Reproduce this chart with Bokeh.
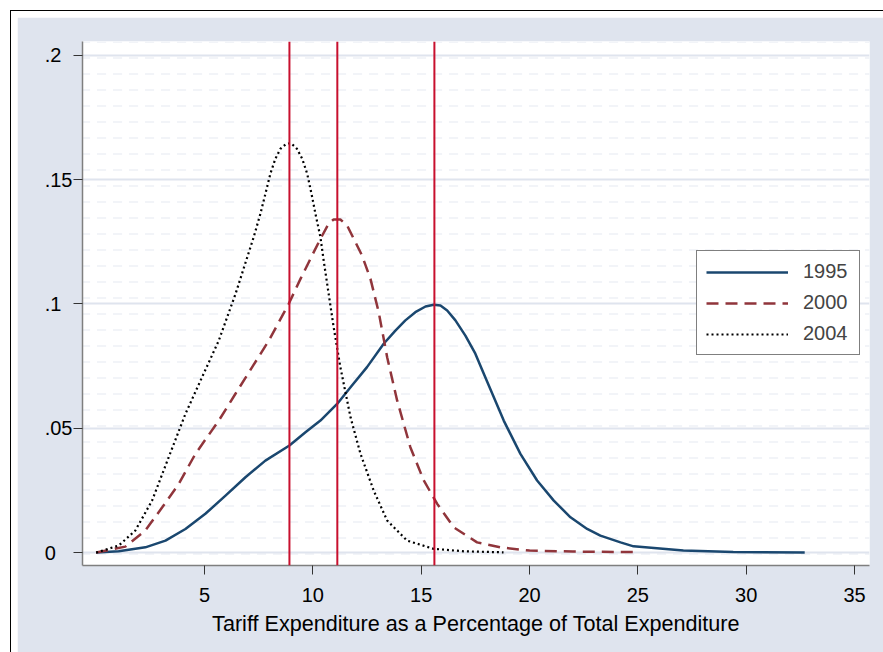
from bokeh.plotting import figure
from bokeh.models import Range1d, FixedTicker, Span, Legend, LegendItem, BoxAnnotation
from bokeh.layouts import column
from bokeh.embed import file_html
from bokeh.resources import INLINE

# ---- data ----
x1995 = [0, 1.04, 2.27, 3.2, 4.12, 5.04, 5.97, 6.89, 7.81, 8.92, 9.66, 10.35, 11.12, 11.74,
         12.5, 13.27, 13.81, 14.27, 14.73, 15.2, 15.58, 15.89, 16.2, 16.58, 17.04, 17.5,
         17.89, 18.81, 19.58, 20.35, 21.12, 21.89, 22.66, 23.27, 24.2, 24.8, 27.1, 29.4, 32.7]
y1995 = [0, .0005, .0021, .0048, .0095, .0156, .0229, .0303, .037, .0431, .0484, .0531, .0598,
         .0665, .0746, .084, .0893, .0934, .0967, .099, .0997, .0994, .0974, .0934, .0873, .08,
         .0719, .0531, .0397, .029, .0209, .0142, .0095, .0068, .0041, .0025, .0008, .0002, 0.0]

x2000 = [0, 1.35, 2.27, 3.05, 3.81, 4.58, 5.66, 6.43, 7.2, 7.97, 8.89, 9.43, 9.89, 10.35,
         10.73, 10.96, 11.27, 11.58, 11.89, 12.27, 12.66, 13.04, 13.43, 13.89, 14.5, 15.12,
         15.74, 16.5, 17.58, 18.66, 20.0, 22.0, 24.8]
y2000 = [0, .0024, .0089, .0182, .0276, .0397, .0531, .0639, .0746, .0853, .1001, .1101,
         .1182, .1262, .1323, .134, .134, .1316, .1262, .1195, .1101, .0967, .0786, .0612,
         .0424, .029, .0196, .0102, .0041, .0021, .0008, .0004, .0002]

x2004 = [0, 1.04, 1.81, 2.58, 3.35, 4.12, 4.89, 5.66, 6.43, 7.27, 7.58, 7.81, 8.04, 8.27,
         8.5, 8.78, 9.0, 9.27, 9.51, 9.74, 9.97, 10.12, 10.35, 10.5, 10.96, 11.27, 11.74,
         12.2, 12.81, 13.43, 14.35, 15.58, 17.0, 18.8]
y2004 = [0, .0028, .0089, .0209, .0384, .0558, .0706, .0853, .104, .1269, .1363, .1443, .1524,
         .1584, .1624, .1645, .1647, .1624, .1584, .1524, .143, .1363, .1269, .1175, .0907,
         .0746, .0544, .0397, .0249, .0129, .0048, .0015, .0005, .0001]

series_names = ["1995", "2000", "2004"]
vlines = [8.92, 11.13, 15.61]

xticks = [5, 10, 15, 20, 25, 30, 35]
yticks = [0, 0.05, 0.1, 0.15, 0.2]
ytick_labels = ["0", ".05", ".1", ".15", ".2"]
x_title = "Tariff Expenditure as a Percentage of Total Expenditure"

# ---- style ----
BG = "#dfe4ee"
GRID = "#dfe4ee"
NAVY = "#1a476f"
MAROON = "#90353b"
RED = "#c8102e"
FONT = "Liberation Sans"
NBSP = "\u00a0"


def left_pad(label, width_chars=3):
    # y labels are left-aligned in the reference: pad with no-break spaces
    # ('.' and NBSP are half a digit wide in Liberation Sans)
    units = sum(1 if c.isdigit() else 0.5 for c in label)
    return label + NBSP * int(round((width_chars - 0.5 - units) * 2))


p = figure(width=866, height=635, output_backend="svg", toolbar_location=None,
           x_range=Range1d(-0.63, 35.69), y_range=Range1d(-0.0052, 0.2056),
           min_border_left=65, min_border_top=24, min_border_right=14, min_border_bottom=87,
           background_fill_color="white", border_fill_color=BG)
p.outline_line_color = None

# faint background texture of the plot region
p.add_layout(BoxAnnotation(fill_alpha=0, line_alpha=0, hatch_pattern="horizontal_dash",
                           hatch_scale=16, hatch_color="#dce1ec", hatch_weight=1.2,
                           hatch_alpha=0.6, level="image"))

p.xgrid.visible = False
p.ygrid.ticker = FixedTicker(ticks=yticks)
p.ygrid.grid_line_color = GRID
p.ygrid.grid_line_width = 2

for ax in (p.xaxis[0], p.yaxis[0]):
    ax.axis_line_color = "#7f7f7f"
    ax.axis_line_width = 1.5
    ax.major_tick_line_color = "#333333"
    ax.major_tick_in = 0
    ax.major_tick_out = 9
    ax.minor_tick_line_color = None
    ax.major_label_text_font = FONT
    ax.major_label_text_font_size = "20px"
    ax.major_label_text_color = "black"

p.xaxis.ticker = FixedTicker(ticks=xticks)
p.xaxis.major_label_standoff = 13
p.xaxis.axis_label = x_title
p.xaxis.axis_label_text_font = FONT
p.xaxis.axis_label_text_font_size = "21.6px"
p.xaxis.axis_label_text_font_style = "normal"
p.xaxis.axis_label_text_color = "black"
p.xaxis.axis_label_standoff = 6

p.yaxis.ticker = FixedTicker(ticks=yticks)
p.yaxis.major_label_overrides = {t: left_pad(l) for t, l in zip(yticks, ytick_labels)}
p.yaxis.major_label_orientation = "horizontal"
p.yaxis.major_label_standoff = 1

r1 = p.line(x1995, y1995, line_color=NAVY, line_width=2.5, line_join="round")
r2 = p.line(x2000, y2000, line_color=MAROON, line_width=2.5, line_dash="12 7")
r3 = p.line(x2004, y2004, line_color="black", line_width=2.2, line_dash="2 3")

for v in vlines:
    p.add_layout(Span(location=v, dimension="height", line_color=RED, line_width=2))

legend = Legend(items=[LegendItem(label=series_names[0], renderers=[r1]),
                       LegendItem(label=series_names[1], renderers=[r2]),
                       LegendItem(label=series_names[2], renderers=[r3])],
                location=(614, 210), glyph_width=82, glyph_height=20, label_height=20,
                label_standoff=15, label_width=47, spacing=8, padding=9, margin=0,
                label_text_font=FONT, label_text_font_size="20px",
                border_line_color="black", border_line_width=1,
                background_fill_color="white", background_fill_alpha=1)
p.add_layout(legend)

layout = column(p, styles={"border-left": "1px solid black", "border-top": "1px solid black",
                           "padding": "6px 0 0 6px", "margin": "10px 0 0 10px",
                           "background-color": "white"})

open("out.html", "w").write(file_html(layout, INLINE))
